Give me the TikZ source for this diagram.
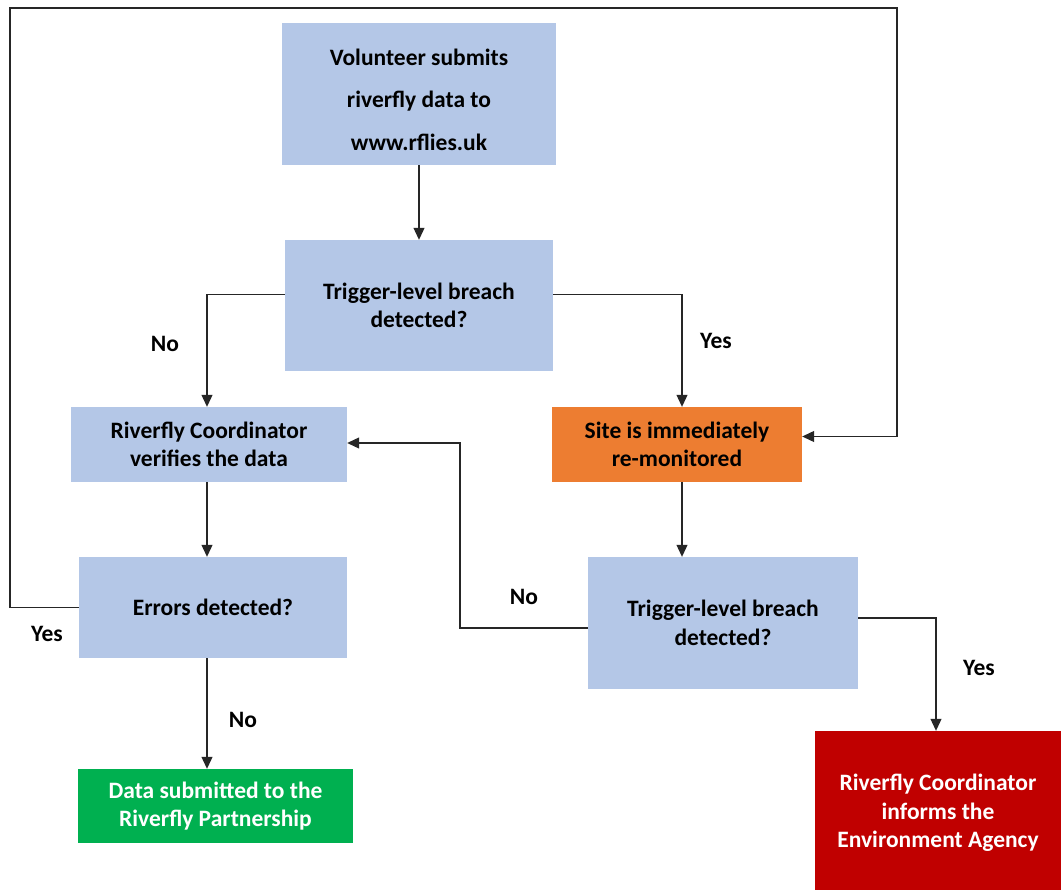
\documentclass[tikz,border=0pt]{standalone}
\usepackage{fontspec}
\setmainfont{Carlito}
\usetikzlibrary{arrows.meta}
\definecolor{cblue}{HTML}{B4C7E7}
\definecolor{corange}{HTML}{ED7D31}
\definecolor{cgreen}{HTML}{00B050}
\definecolor{cred}{HTML}{C00000}
\tikzset{
  box/.style={draw=none, inner sep=0pt, align=center, anchor=center,
    font=\bfseries\fontsize{23.5}{28.5}\selectfont},
  arr/.style={draw=black!85, line width=1.1pt, -{Triangle[length=12pt,width=11pt]}},
  lbl/.style={font=\bfseries\fontsize{23.5}{28}\selectfont, inner sep=0pt}
}
\begin{document}
\begin{tikzpicture}[x=1pt,y=-1pt]
\useasboundingbox (0,0) rectangle (1061,890);
\fill[white] (0,0) rectangle (1061,890);
\node[box, fill=cblue, minimum width=274pt, minimum height=142pt] (vol) at (419,94) {};
\node[box, font=\bfseries\fontsize{23.5}{42.5}\selectfont] (voltxt) at (419,99.5)
  {Volunteer submits\\riverfly data to\\www.rflies.uk};
\node[box, fill=cblue, minimum width=268pt, minimum height=131pt] (t1) at (419,305.5)
  {Trigger-level breach\\detected?};
\node[box, fill=cblue, minimum width=276pt, minimum height=75pt] (ver) at (209,444.5)
  {Riverfly Coordinator\\verifies the data};
\node[box, fill=corange, minimum width=250pt, minimum height=75pt] (site) at (677,444.5)
  {Site is immediately\\re-monitored};
\node[box, fill=cblue, minimum width=268pt, minimum height=101pt] (err) at (213,607.5)
  {Errors detected?};
\node[box, fill=cblue, minimum width=270pt, minimum height=132pt] (t2) at (723,623)
  {Trigger-level breach\\detected?};
\node[box, fill=cgreen, text=white, minimum width=275pt, minimum height=74pt] (grn) at (215.5,806)
  {Data submitted to the\\Riverfly Partnership};
\node[box, fill=cred, text=white, minimum width=246pt, minimum height=159pt] (red) at (938,810.5) {};
\node[box, text=white] (redtxt) at (938,813)
  {Riverfly Coordinator\\informs the\\Environment Agency};
\coordinate (tl) at (10,8);
\coordinate (tr) at (897,8);
\coordinate (mid) at (460,443);
\draw[arr] (vol.south) -- (t1.north);
\draw[arr] ([yshift=11pt]t1.west) -| ([xshift=-2pt]ver.north);
\draw[arr] ([yshift=11pt]t1.east) -| ([xshift=5pt]site.north);
\draw[arr] ([xshift=-2pt]ver.south) -- ([xshift=-2pt]ver.south |- err.north);
\draw[arr] (err.west) -| (tl) -- (tr) |- ([yshift=8pt]site.east);
\draw[arr] ([xshift=5pt]site.south) -- ([xshift=5pt]site.south |- t2.north);
\draw[arr] ([yshift=-5pt]t2.west) -| (mid) -- (mid -| ver.east);
\draw[arr] ([yshift=5pt]t2.east) -| ([xshift=-2pt]red.north);
\draw[arr] ([xshift=-6pt]err.south) -- ([xshift=-6pt]err.south |- grn.north);
\node[lbl] (l1) at (165,344) {No};
\node[lbl] (l2) at (716,341) {Yes};
\node[lbl] (l3) at (47,634) {Yes};
\node[lbl] (l4) at (524,597) {No};
\node[lbl] (l5) at (243,720) {No};
\node[lbl] (l6) at (979,668) {Yes};
\end{tikzpicture}
\end{document}
